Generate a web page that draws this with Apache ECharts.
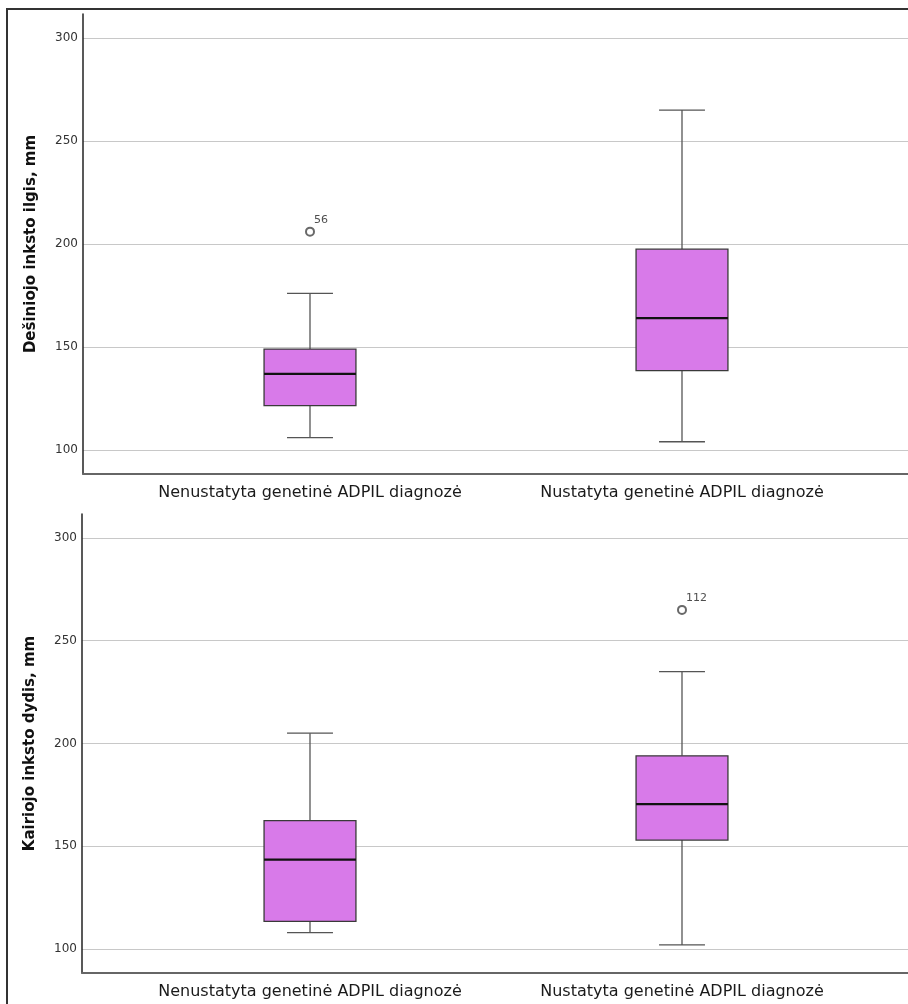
<!DOCTYPE html>
<html>
<head>
<meta charset="utf-8">
<script src="https://cdn.jsdelivr.net/npm/echarts@6/dist/echarts.min.js"></script>
<style>
html,body{margin:0;padding:0;background:#fff;overflow:hidden;}
#wrap{position:relative;width:908px;height:1004px;}
#c{position:absolute;left:0;top:0;width:908px;height:1004px;}
#frame{position:absolute;left:6px;top:8px;width:910px;height:1010px;border-left:2px solid #333;border-top:2px solid #333;pointer-events:none;}
</style>
</head>
<body>
<div id="wrap"><div id="c"></div><div id="frame"></div></div>
<script>
const categories = ['Nenustatyta genetinė ADPIL diagnozė', 'Nustatyta genetinė ADPIL diagnozė'];
// [low whisker, Q1, median, Q3, high whisker]
const rightStats = [[106, 121.5, 137, 149, 176], [104, 138.5, 164, 197.5, 265]];
const rightOutliers = [[0, 206, '56']];
const leftStats = [[108, 113.5, 143.5, 162.5, 205], [102, 153, 170.5, 194, 235]];
const leftOutliers = [[1, 265, '112']];
const yTicks = [100, 150, 200, 250, 300];
const yMin = 88.35, yMax = 311.65;
const yNames = ['Dešiniojo inksto ilgis, mm', 'Kairiojo inksto dydis, mm'];

const FONT = 'DejaVu Sans';

function renderBox(params, api) {
  const idx = api.value(0);
  const lo = api.value(1), q1 = api.value(2), med = api.value(3), q3 = api.value(4), hi = api.value(5);
  const band = api.size([1, 0])[0];
  const bw = band * 0.247;
  const cw = bw / 2;
  const x = api.coord([idx, med])[0];
  const yLo = api.coord([idx, lo])[1];
  const yQ1 = api.coord([idx, q1])[1];
  const yMed = api.coord([idx, med])[1];
  const yQ3 = api.coord([idx, q3])[1];
  const yHi = api.coord([idx, hi])[1];
  const ws = { stroke: '#555', lineWidth: 1.3 };
  return {
    type: 'group',
    children: [
      { type: 'line', shape: { x1: x, y1: yHi, x2: x, y2: yQ3 }, style: ws },
      { type: 'line', shape: { x1: x, y1: yQ1, x2: x, y2: yLo }, style: ws },
      { type: 'line', shape: { x1: x - cw / 2, y1: yHi, x2: x + cw / 2, y2: yHi }, style: ws },
      { type: 'line', shape: { x1: x - cw / 2, y1: yLo, x2: x + cw / 2, y2: yLo }, style: ws },
      { type: 'rect', shape: { x: x - bw / 2, y: yQ3, width: bw, height: yQ1 - yQ3 },
        style: { fill: '#d87ae9', stroke: '#3a3a3a', lineWidth: 1.3 } },
      { type: 'line', shape: { x1: x - bw / 2, y1: yMed, x2: x + bw / 2, y2: yMed },
        style: { stroke: '#111', lineWidth: 2.2 } }
    ]
  };
}

const panels = [
  { top: 14, height: 460, leftA: 83, stats: rightStats, outliers: rightOutliers, name: yNames[0] },
  { top: 514, height: 459, leftA: 82, stats: leftStats, outliers: leftOutliers, name: yNames[1] }
];

const grid = [], xAxis = [], yAxis = [], series = [];
panels.forEach((p, i) => {
  const ga = grid.length;
  grid.push({ left: p.leftA, right: 0, top: p.top, height: p.height, containLabel: false });
  grid.push({ left: 124, width: 744, top: p.top, height: p.height, containLabel: false });
  xAxis.push({
    type: 'category', gridIndex: ga, data: [''],
    axisLine: { show: true, lineStyle: { color: '#666', width: 2 } },
    axisTick: { show: false }, axisLabel: { show: false }, splitLine: { show: false }
  });
  yAxis.push({
    type: 'value', gridIndex: ga, min: yMin, max: yMax,
    name: p.name, nameLocation: 'middle', nameGap: 44, nameRotate: 90,
    nameTextStyle: { fontFamily: FONT, fontSize: 15, fontWeight: 'bold', color: '#111' },
    axisLine: { show: true, lineStyle: { color: '#222', width: 1.5 } },
    axisTick: { show: false, customValues: yTicks },
    axisLabel: { customValues: yTicks, fontFamily: FONT, fontSize: 12, color: '#333', margin: 5 },
    splitLine: { show: true, lineStyle: { color: '#c8c8c8', width: 1.2 } }
  });
  xAxis.push({
    type: 'category', gridIndex: ga + 1, data: categories,
    axisLine: { show: false }, axisTick: { show: false },
    axisLabel: { interval: 0, hideOverlap: false, fontFamily: FONT, fontSize: 16, color: '#1a1a1a', margin: 11 },
    splitLine: { show: false }
  });
  yAxis.push({
    type: 'value', gridIndex: ga + 1, min: yMin, max: yMax, show: false,
    splitLine: { show: false }
  });
  series.push({
    type: 'custom', xAxisIndex: ga + 1, yAxisIndex: ga + 1,
    renderItem: renderBox,
    encode: { x: 0, y: [1, 2, 3, 4, 5] },
    data: p.stats.map((s, k) => [k].concat(s)),
    silent: true
  });
  series.push({
    type: 'scatter', xAxisIndex: ga + 1, yAxisIndex: ga + 1,
    symbol: 'emptyCircle', symbolSize: 8,
    itemStyle: { color: '#444', borderColor: '#444', borderWidth: 1.2 },
    label: { show: true, position: [9, -12], formatter: d => d.data[2],
      fontFamily: FONT, fontSize: 11, color: '#222' },
    data: p.outliers,
    silent: true
  });
});

const chart = echarts.init(document.getElementById('c'), null, { renderer: 'canvas' });
chart.setOption({
  animation: false,
  backgroundColor: '#fff',
  grid, xAxis, yAxis, series
});
</script>
</body>
</html>
